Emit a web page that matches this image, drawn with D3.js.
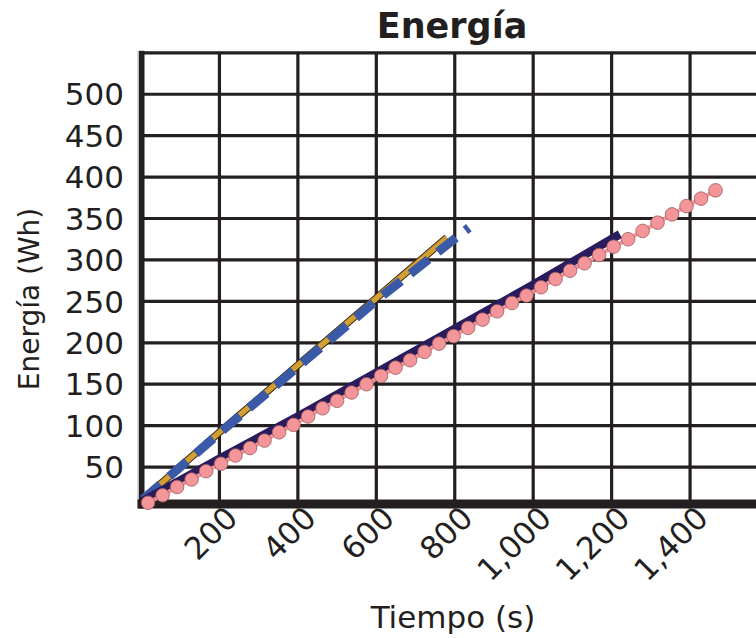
<!DOCTYPE html>
<html>
<head>
<meta charset="utf-8">
<script src="https://cdn.jsdelivr.net/npm/d3@7"></script>
<style>
  body { margin: 0; background: #fff; }
  text { font-family: "DejaVu Sans", Verdana, sans-serif; fill: #231f20; }
</style>
</head>
<body>
<script>
// data
const xTicks = [200, 400, 600, 800, 1000, 1200, 1400];
const yTicks = [50, 100, 150, 200, 250, 300, 350, 400, 450, 500];

const goldT = [5, 200, 400, 600, 780];
const goldE = [11, 92, 173, 254, 327];

const blueT = [5, 200, 400, 600, 836];
const blueE = [11, 91, 171, 251, 339];

const navyT = [5, 200, 400, 600, 800, 1000, 1221];
const navyE = [9, 60, 111, 164, 217, 270, 331];

const pinkT = [18, 55, 92, 129, 166, 204, 241, 278, 315, 352, 389, 426, 463, 500, 537, 575, 612, 649, 686, 723,
  760, 797, 834, 871, 908, 946, 983, 1020, 1057, 1094, 1131, 1168, 1205, 1242, 1279, 1317, 1354, 1391, 1428, 1465];
const pinkE = [7, 16, 26, 35, 45, 54, 64, 73, 82, 92, 101, 111, 121, 130, 140, 150, 160, 170, 179, 189,
  199, 208, 218, 228, 238, 248, 257, 267, 277, 287, 296, 306, 316, 325, 335, 345, 355, 365, 374, 384];

const width = 756, height = 638;
const ink = "#231f20";

const svg = d3.select("body").append("svg")
    .attr("width", width)
    .attr("height", height);

const x = d3.scaleLinear().domain([0, 1600]).range([141, 768.5]);
const y = d3.scaleLinear().domain([0, 550]).range([508.5, 52.8]);

// grid
const grid = svg.append("g").attr("stroke", ink).attr("stroke-width", 3.2);
grid.selectAll("line.v")
    .data(xTicks.concat([1600]))
    .join("line")
        .attr("x1", d => x(d)).attr("x2", d => x(d))
        .attr("y1", y(550)).attr("y2", y(0));
grid.selectAll("line.h")
    .data(yTicks.concat([550]))
    .join("line")
        .attr("x1", x(0)).attr("x2", width + 20)
        .attr("y1", d => y(d)).attr("y2", d => y(d));

// axis bars (thick, with a little grey shadow)
svg.append("rect").attr("x", 137.5).attr("y", y(550) - 2).attr("width", 2).attr("height", y(0) - y(550) + 2).attr("fill", "#bbb");
svg.append("rect").attr("x", 139).attr("y", y(550) - 2).attr("width", 5.5).attr("height", y(0) - y(550) + 2).attr("fill", ink);
svg.append("rect").attr("x", 137.5).attr("y", 499.5).attr("width", width).attr("height", 9).attr("fill", ink);

// lines
const line = d3.line().x(d => x(d[0])).y(d => y(d[1]));
const zip = (a, b) => a.map((v, i) => [v, b[i]]);

const plot = svg.append("g").attr("fill", "none");

plot.append("path").attr("d", line(zip(goldT, goldE)))
    .attr("stroke", "#3b2c12").attr("stroke-width", 7.5);
plot.append("path").attr("d", line(zip(goldT, goldE)))
    .attr("stroke", "#d29f35").attr("stroke-width", 5.5);

plot.append("path").attr("d", line(zip(blueT, blueE)))
    .attr("stroke", "#3a59a6").attr("stroke-width", 9)
    .attr("stroke-dasharray", "23,12");

plot.append("path").attr("d", line(zip(navyT, navyE)))
    .attr("stroke", "#2a1b5c").attr("stroke-width", 8.5);

const pink = zip(pinkT, pinkE);
plot.append("path").attr("d", line(pink))
    .attr("stroke", "#f4959a").attr("stroke-width", 4);
plot.selectAll("circle")
    .data(pink)
    .join("circle")
        .attr("cx", d => x(d[0]))
        .attr("cy", d => y(d[1]))
        .attr("r", 6.8)
        .attr("fill", "#f4959a")
        .attr("stroke", "#9a5a5e")
        .attr("stroke-width", 0.8);

// tick labels
svg.append("g").selectAll("text")
    .data(yTicks)
    .join("text")
        .attr("x", 124)
        .attr("y", d => y(d))
        .attr("dy", "0.36em")
        .attr("text-anchor", "end")
        .attr("font-size", 31)
        .text(d => d);

svg.append("g").selectAll("text")
    .data(xTicks)
    .join("text")
        .attr("text-anchor", "end")
        .attr("font-size", 31)
        .attr("transform", d => "translate(" + (x(d) + 20) + "," + 520 + ") rotate(-45)")
        .text(d => d3.format(",")(d));

// titles
svg.append("text")
    .attr("x", 452).attr("y", 38)
    .attr("text-anchor", "middle")
    .attr("font-size", 35)
    .attr("font-weight", "bold")
    .text("Energía");

svg.append("text")
    .attr("x", 453).attr("y", 628)
    .attr("text-anchor", "middle")
    .attr("font-size", 31)
    .text("Tiempo (s)");

svg.append("text")
    .attr("transform", "translate(39,299) rotate(-90)")
    .attr("text-anchor", "middle")
    .attr("font-size", 28)
    .text("Energía (Wh)");
</script>
</body>
</html>
